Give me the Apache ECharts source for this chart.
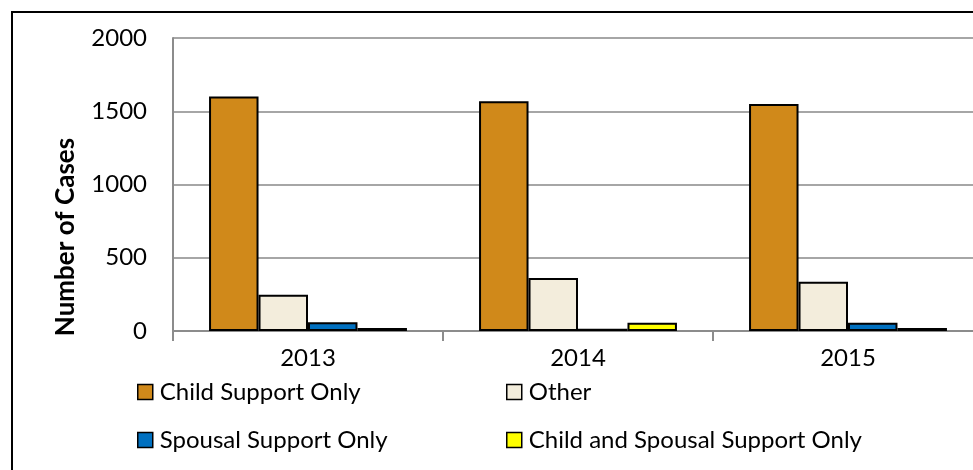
<!DOCTYPE html>
<html>
<head>
<meta charset="utf-8">
<script src="https://cdn.jsdelivr.net/npm/echarts@6/dist/echarts.min.js"></script>
<style>
  html, body { margin: 0; padding: 0; background: #fff; }
  #chart { width: 973px; height: 470px; }
</style>
</head>
<body>
<div id="chart"></div>
<script>
// Case counts by year and support type
const years = ['2013', '2014', '2015'];
const childSupportOnly = [1600, 1568, 1550];
const other = [248, 362, 337];
const spousalSupportOnly = [59, 15, 57];
const childAndSpousal = [20, 57, 20];
const yTicks = [0, 500, 1000, 1500, 2000];

const seriesNames = ['Child Support Only', 'Other', 'Spousal Support Only', 'Child and Spousal Support Only'];
const seriesColors = ['#D0891A', '#F3EDDC', '#0070C0', '#FFFF00'];
const seriesData = [childSupportOnly, other, spousalSupportOnly, childAndSpousal];

const FONT = 'Lato';
const FS = 24;

const chart = echarts.init(document.getElementById('chart'), null, { renderer: 'canvas' });

// one legend block per entry, laid out as a 2x2 table
const legendPos = [
  { left: 137, top: 380 },
  { left: 506, top: 380 },
  { left: 137, top: 428 },
  { left: 506, top: 428 }
];
const legends = seriesNames.map((name, i) => ({
  data: [name],
  left: legendPos[i].left,
  top: legendPos[i].top,
  icon: 'rect',
  itemWidth: 15,
  itemHeight: 15,
  padding: 0,
  selectedMode: false,
  itemStyle: { borderColor: '#000', borderWidth: 1.5 },
  textStyle: { fontFamily: FONT, fontSize: FS, color: '#000', padding: [0, 0, 0, 2] }
}));

chart.setOption({
  animation: false,
  backgroundColor: '#fff',
  legend: legends,
  // plot area runs past the right edge of the canvas
  grid: { left: 173, width: 810, top: 38, height: 293, containLabel: false, outerBoundsMode: 'none' },
  xAxis: {
    type: 'category',
    data: years,
    axisLine: { lineStyle: { color: '#8C8C8C', width: 2 } },
    axisTick: { show: true, length: 10, lineStyle: { color: '#8C8C8C', width: 2 } },
    axisLabel: { fontFamily: FONT, fontSize: FS, color: '#000', margin: 15 }
  },
  yAxis: {
    type: 'value',
    min: yTicks[0],
    max: yTicks[yTicks.length - 1],
    interval: 500,
    axisLine: { show: true, lineStyle: { color: '#8C8C8C', width: 2 } },
    axisTick: { show: false },
    splitLine: { lineStyle: { color: '#A6A6A6', width: 2 } },
    axisLabel: { fontFamily: FONT, fontSize: FS, color: '#000', margin: 26, formatter: v => String(v) }
  },
  series: seriesNames.map((name, i) => ({
    name: name,
    type: 'bar',
    data: seriesData[i],
    barGap: '0%',
    barCategoryGap: '26.7%',
    itemStyle: { color: seriesColors[i], borderColor: '#000', borderWidth: 2 }
  })),
  graphic: [
    {
      type: 'rect',
      shape: { x: 12, y: 12, width: 1000, height: 500 },
      style: { fill: 'none', stroke: '#000', lineWidth: 2 },
      silent: true
    },
    {
      type: 'text',
      x: 66,
      y: 237,
      rotation: Math.PI / 2,
      style: {
        text: 'Number of Cases',
        fontFamily: FONT,
        fontWeight: 'bold',
        fontSize: 26,
        fill: '#000',
        align: 'center',
        verticalAlign: 'middle'
      }
    }
  ]
});
</script>
</body>
</html>
